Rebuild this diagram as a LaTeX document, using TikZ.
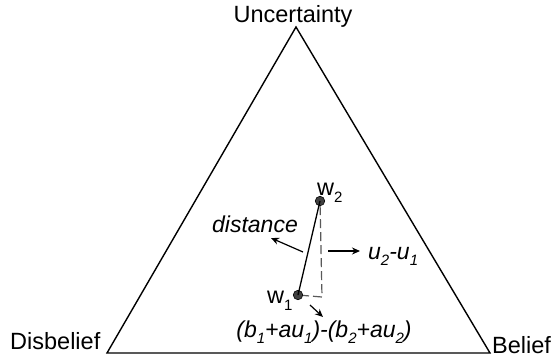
\documentclass[tikz,border=0pt]{standalone}
\usepackage{fontspec}
\setmainfont{Liberation Sans}
\usetikzlibrary{arrows.meta}
\newcommand{\sbx}[1]{\raisebox{-0.3em}{\fontsize{15}{15}\selectfont #1}}
\begin{document}
\begin{tikzpicture}[x=1pt,y=-1pt,
  lbl/.style={font=\fontsize{23.5}{26}\selectfont, inner sep=0pt},
  ilbl/.style={font=\fontsize{23}{26}\selectfont\itshape, inner sep=0pt},
  arr/.style={-{Stealth[length=8pt,width=7pt]}, line width=1.2pt},
  dot/.style={circle, fill=black!75, draw=black, line width=0.6pt, minimum size=9.5pt, inner sep=0pt}]
\useasboundingbox (0,0) rectangle (551,360);
\coordinate (U) at (296,27);
\coordinate (D) at (107,353);
\coordinate (B) at (490,353);
\draw[line width=1.4pt, line join=miter] (U) -- (B) -- (D) -- cycle;
\node[lbl, anchor=base] (tu) at (293,22) {Uncertainty};
\node[lbl, anchor=base west] (td) at (10,349) {Disbelief};
\node[lbl, anchor=base west] (tb) at (492,353) {Belief};
\node[dot] (w2) at (320,201) {};
\node[dot] (w1) at (298,295) {};
\coordinate (c) at (322,297);
\draw[line width=1.2pt, black!65, dash pattern=on 9pt off 4pt] (w2) -- (c) -- (w1);
\draw[line width=1.3pt] (w2.center) -- (w1.center);
\node[lbl, anchor=base west] (l2) at (317,195) {w\sbx{2}};
\node[lbl, anchor=base west] (l1) at (267,303) {w\sbx{1}};
\coordinate (d0) at (303,252);
\coordinate (d1) at (271,238);
\draw[arr] (d0) -- (d1);
\node[ilbl, anchor=base] (td2) at (255,232) {distance};
\coordinate (u0) at (328,251);
\coordinate (u1) at (360,251);
\draw[arr] (u0) -- (u1);
\node[ilbl, anchor=base west] (tu2) at (368,259) {u\sbx{2}-u\sbx{1}};
\coordinate (b0) at (310,305);
\coordinate (b1) at (323,317);
\draw[arr] (b0) -- (b1);
\node[ilbl, anchor=base] (tb2) at (324,337) {(b\sbx{1}+au\sbx{1})-(b\sbx{2}+au\sbx{2})};
\end{tikzpicture}
\end{document}
